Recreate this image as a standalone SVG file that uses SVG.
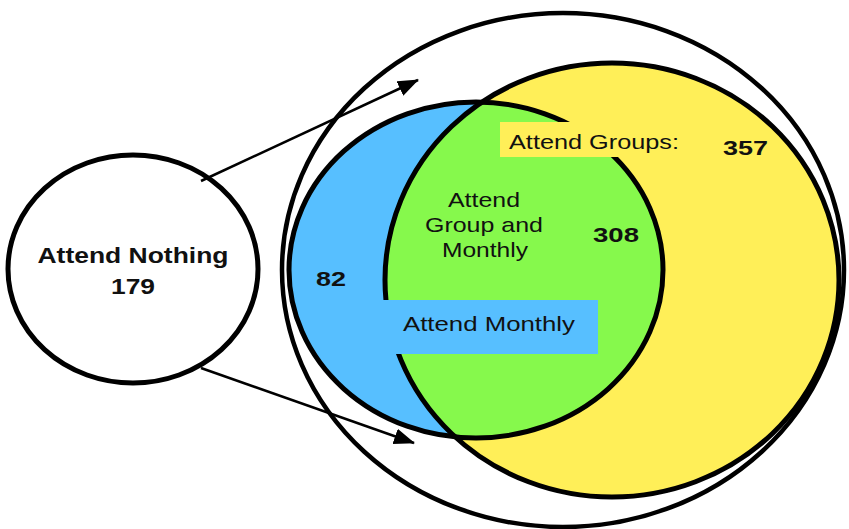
<svg xmlns="http://www.w3.org/2000/svg" width="849" height="529" viewBox="0 0 849 529">
<style>
.ln{fill:none;stroke:#000;stroke-width:5}
.t{font-family:"Liberation Sans",Arial,sans-serif;fill:#111}
.b{font-weight:bold}
.arr{stroke:#000;stroke-width:2.5;fill:none;marker-end:url(#ah)}
</style>
<defs>
<marker id="ah" markerUnits="userSpaceOnUse" markerWidth="24" markerHeight="18" refX="20" refY="8" orient="auto">
<path d="M0,0 L21,8 L0,16 z" fill="#000"/>
</marker>
<clipPath id="blueClip"><ellipse cx="476" cy="270" rx="187" ry="168"/></clipPath>
</defs>
<rect width="849" height="529" fill="#fff"/>
<g id="outer">
<ellipse cx="563" cy="270" rx="281" ry="257" fill="#fff" class="ln" style="stroke-width:4.5"/>
</g>
<g id="monthly">
<ellipse cx="476" cy="270" rx="187" ry="168" fill="#57BFFF"/>
</g>
<g id="groups">
<ellipse cx="612" cy="280" rx="227" ry="217" fill="#FFEF58"/>
</g>
<g id="both">
<ellipse cx="612" cy="280" rx="227" ry="217" fill="#86F94C" clip-path="url(#blueClip)"/>
</g>
<g id="outlines">
<ellipse cx="476" cy="270" rx="187" ry="168" class="ln"/>
<ellipse cx="612" cy="280" rx="227" ry="217" class="ln"/>
</g>
<g id="nothing">
<ellipse cx="133" cy="269" rx="125" ry="114" fill="#fff" class="ln"/>
<text class="t b" x="133" y="263" font-size="22" text-anchor="middle" textLength="191" lengthAdjust="spacingAndGlyphs">Attend Nothing</text>
<text class="t b" x="133" y="294" font-size="22" text-anchor="middle" textLength="44" lengthAdjust="spacingAndGlyphs">179</text>
</g>
<g id="connectors">
<line class="arr" x1="201" y1="181" x2="418" y2="80"/>
<line class="arr" x1="201" y1="368" x2="414" y2="443"/>
</g>
<g id="label-groups">
<rect x="500" y="122" width="185" height="35" fill="#FFEF58"/>
<text class="t" x="509" y="149" font-size="20" textLength="170" lengthAdjust="spacingAndGlyphs">Attend Groups:</text>
<text class="t b" x="723" y="155" font-size="21" textLength="45" lengthAdjust="spacingAndGlyphs">357</text>
</g>
<g id="label-both">
<text class="t" x="448" y="207" font-size="21" textLength="72" lengthAdjust="spacingAndGlyphs">Attend</text>
<text class="t" x="425" y="232" font-size="21" textLength="118" lengthAdjust="spacingAndGlyphs">Group and</text>
<text class="t" x="442" y="257" font-size="21" textLength="86" lengthAdjust="spacingAndGlyphs">Monthly</text>
<text class="t b" x="593" y="242" font-size="21" textLength="46" lengthAdjust="spacingAndGlyphs">308</text>
</g>
<g id="label-monthly">
<text class="t b" x="316" y="286" font-size="21" textLength="30" lengthAdjust="spacingAndGlyphs">82</text>
<rect x="378" y="300" width="220" height="54" fill="#57BFFF"/>
<text class="t" x="403" y="331" font-size="20" textLength="172" lengthAdjust="spacingAndGlyphs">Attend Monthly</text>
</g>
</svg>
